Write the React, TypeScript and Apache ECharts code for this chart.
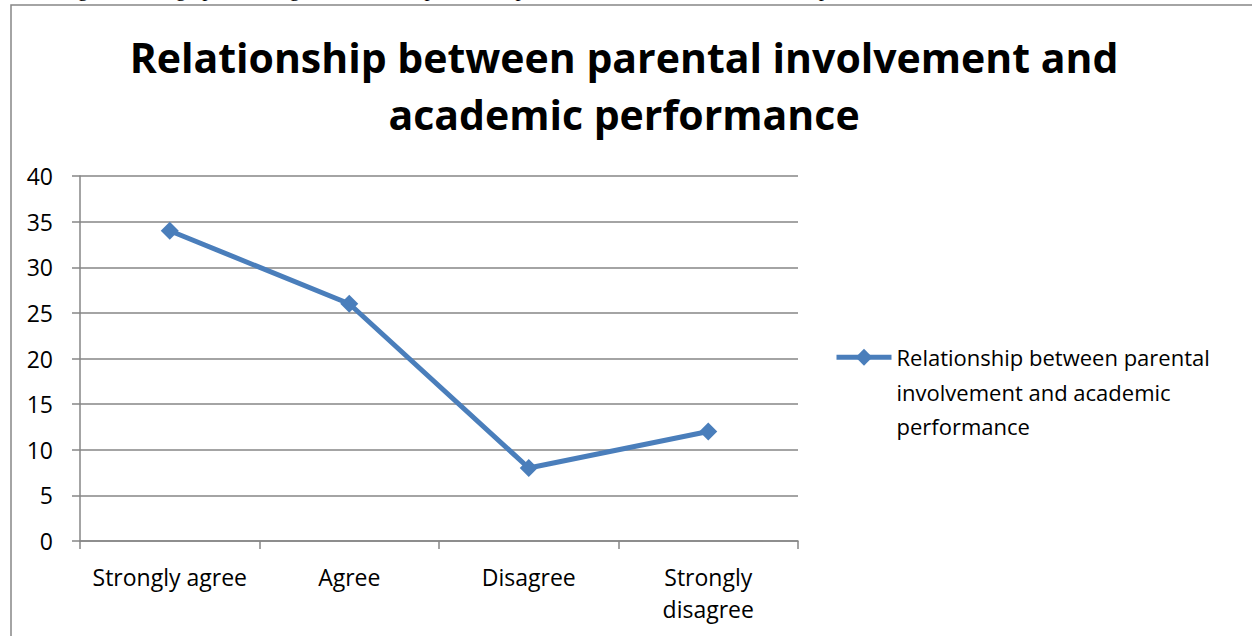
import React, { useEffect, useRef } from "react";
import * as echarts from "echarts";

const categories = ["Strongly agree", "Agree", "Disagree", "Strongly\ndisagree"];
const values = [34, 26, 8, 12];
const seriesName = "Relationship between parental\ninvolvement and academic\nperformance";
const titleText = "Relationship between parental involvement and\nacademic performance";
const captionText =
  "Figure 4.6: A graph showing the relationship between parental involvement and academic performance of learners in the schools";
const yTicks = { min: 0, max: 40, interval: 5 };

const FONT = "'Open Sans', 'Noto Sans', sans-serif";
const BLUE = "#4a7ebb";
const GRAY = "#868686";

export default function App() {
  const ref = useRef<HTMLDivElement>(null);
  useEffect(() => {
    if (!ref.current) return;
    const chart = echarts.init(ref.current, undefined, { renderer: "svg" });
    chart.setOption({
      animation: false,
      backgroundColor: "#ffffff",
      title: {
        text: titleText,
        left: 619,
        top: 23,
        textAlign: "center",
        textStyle: {
          fontFamily: FONT,
          fontWeight: "bold",
          fontSize: 41,
          lineHeight: 57,
          color: "#000000",
        },
      },
      graphic: [
        {
          type: "rect",
          shape: { x: 11, y: 5, width: 1400, height: 800 },
          style: { fill: "none", stroke: GRAY, lineWidth: 1.5 },
          silent: true,
        },
        {
          type: "text",
          x: 60,
          y: -11,
          style: {
            text: captionText,
            font: "21px 'Liberation Serif', 'Times New Roman', serif",
            fill: "#000",
            verticalAlign: "middle",
          },
          silent: true,
        },
      ],
      legend: {
        left: 829,
        top: 266,
        orient: "vertical",
        itemWidth: 55,
        itemHeight: 21,
        data: [seriesName],
        formatter: (name: string) => "\n\n" + name,
        lineStyle: { width: 5 },
        textStyle: {
          fontFamily: FONT,
          fontSize: 22,
          lineHeight: 34.5,
          color: "#000",
        },
      },
      grid: { left: 80, right: 454, top: 176, bottom: 95, containLabel: false },
      xAxis: {
        type: "category",
        data: categories,
        boundaryGap: true,
        axisLine: { lineStyle: { color: GRAY, width: 1.5 } },
        axisTick: { show: true, length: 8, lineStyle: { color: GRAY, width: 1.5 } },
        axisLabel: {
          fontFamily: FONT,
          fontSize: 23,
          lineHeight: 32,
          color: "#000",
          margin: 20,
          interval: 0,
        },
        splitLine: { show: false },
      },
      yAxis: {
        type: "value",
        min: yTicks.min,
        max: yTicks.max,
        interval: yTicks.interval,
        axisLine: { show: true, lineStyle: { color: GRAY, width: 1.5 } },
        axisTick: { show: true, length: 8, lineStyle: { color: GRAY, width: 1.5 } },
        axisLabel: { fontFamily: FONT, fontSize: 23, color: "#000", margin: 27 },
        splitLine: { show: true, lineStyle: { color: GRAY, width: 1.5 } },
      },
      series: [
        {
          name: seriesName,
          type: "line",
          data: values,
          symbol: "diamond",
          symbolSize: 18,
          lineStyle: { color: BLUE, width: 5 },
          itemStyle: { color: BLUE },
        },
      ],
    });
    return () => chart.dispose();
  }, []);
  return (
    <div
      ref={ref}
      style={{ position: "absolute", left: 0, top: 0, width: 1252, height: 636 }}
    />
  );
}
